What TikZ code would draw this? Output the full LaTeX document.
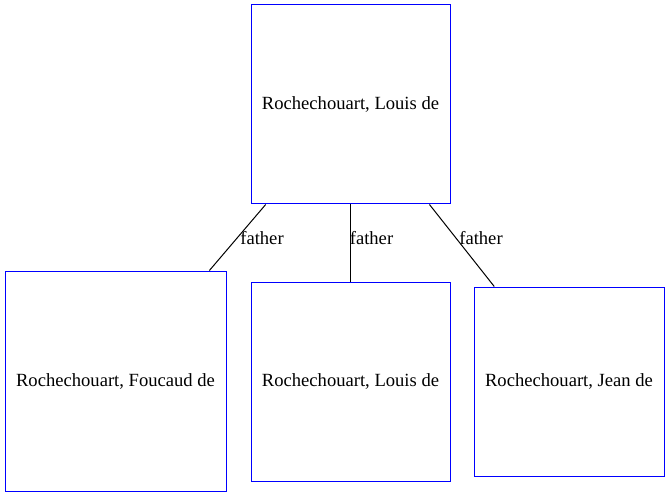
\documentclass[tikz,border=0pt]{standalone}
\usepackage{fontspec}
\setmainfont{Liberation Serif}
\begin{document}
\begin{tikzpicture}[x=1pt,y=-1pt,
  person/.style={draw=blue, line width=1pt, rectangle, inner sep=0pt, font=\fontsize{18.6}{21}\selectfont},
  rel/.style={draw=black, line width=1pt},
  lbl/.style={inner sep=0pt, font=\fontsize{18.6}{21}\selectfont}]
\useasboundingbox (0,0) rectangle (669,497);
\node[person, minimum width=199pt, minimum height=199pt] (top) at (350.5,104.5) {Rochechouart, Louis de};
\node[person, minimum width=221pt, minimum height=220pt] (foucaud) at (115.5,381) {Rochechouart, Foucaud de};
\node[person, minimum width=199pt, minimum height=199pt] (louis) at (350.5,381.5) {Rochechouart, Louis de};
\node[person, minimum width=190pt, minimum height=189pt] (jean) at (569,381.5) {Rochechouart, Jean de};
\draw[rel] (top) -- (foucaud);
\draw[rel] (top) -- (louis);
\draw[rel] (top) -- (jean);
\node[lbl] (l1) at (262,238) {father};
\node[lbl] (l2) at (371.5,238) {father};
\node[lbl] (l3) at (481,238) {father};
\end{tikzpicture}
\end{document}
